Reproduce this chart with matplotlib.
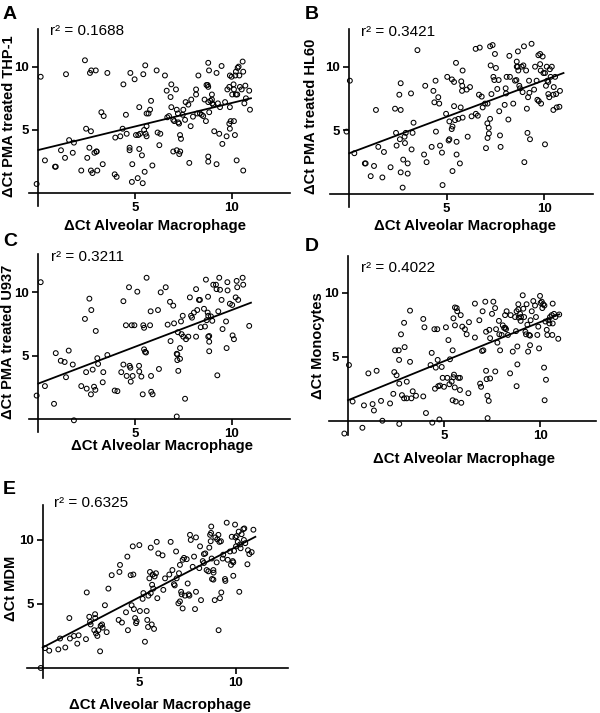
import numpy as np
import matplotlib
matplotlib.use("Agg")
import matplotlib.pyplot as plt

plt.rcParams['font.family'] = ['Liberation Sans', 'DejaVu Sans']
plt.rcParams['font.weight'] = 'bold'

# ---- data (x = dCt alveolar macrophage) ----
thp1_pts = [(-0.09, 0.74), (0.12, 9.2), (0.34, 2.6), (0.86, 2.1), (0.9, 2.1), (1.17, 3.4), (1.38, 2.8),
            (1.43, 9.4), (1.59, 4.2), (1.78, 3.2), (1.84, 4.0), (2.22, 1.8), (2.41, 10.5), (2.47, 5.1),
            (2.53, 2.8), (2.64, 3.6), (2.72, 4.9), (2.67, 9.5), (2.74, 9.7), (2.72, 1.8), (2.8, 1.6),
            (2.9, 3.2), (3.0, 3.3), (3.02, 3.3), (2.97, 9.7), (3.05, 1.8), (3.26, 6.4), (3.38, 6.1),
            (3.33, 2.3), (3.57, 9.5), (3.95, 1.5), (4.05, 1.3), (3.98, 4.4), (4.24, 4.5), (4.4, 8.6),
            (4.36, 5.1), (4.53, 6.2), (4.57, 4.7), (4.72, 3.6), (4.72, 3.4), (4.76, 9.5), (4.86, 2.3),
            (4.84, 0.9), (4.98, 9.0), (5.05, 4.6), (5.17, 4.6), (5.14, 1.2), (5.22, 6.8), (5.26, 4.7),
            (5.22, 3.5), (5.36, 3.0), (5.4, 0.8), (5.43, 9.4), (5.47, 5.0), (5.5, 1.7), (5.53, 10.1),
            (5.55, 4.7), (5.6, 5.3), (5.6, 4.5), (5.6, 6.3), (5.7, 6.3), (5.78, 6.6), (5.83, 7.3),
            (5.9, 2.2), (6.12, 9.7), (6.17, 4.8), (6.26, 3.8), (6.31, 4.7), (6.55, 9.3), (6.64, 8.1),
            (6.67, 6.0), (6.76, 6.1), (6.88, 6.8), (6.88, 8.6), (6.84, 7.6), (6.98, 5.8), (7.03, 5.7),
            (6.98, 3.3), (7.16, 3.4), (7.12, 8.2), (7.16, 6.6), (7.22, 6.3), (7.24, 5.6), (7.28, 5.5),
            (7.29, 3.1), (7.33, 4.6), (7.38, 4.3), (7.34, 3.3), (7.47, 6.2), (7.5, 6.6), (7.59, 5.8),
            (7.62, 7.2), (7.76, 7.0), (7.81, 2.4), (7.88, 5.3), (7.91, 7.4), (8.0, 6.05), (8.16, 8.2),
            (8.16, 7.8), (8.22, 6.3), (8.28, 9.3), (8.36, 6.3), (8.45, 6.2), (8.53, 6.1), (8.6, 7.4),
            (8.67, 5.7), (8.7, 8.55), (8.76, 8.55), (8.79, 8.4), (8.79, 7.2), (8.84, 6.4), (8.79, 10.3),
            (8.83, 9.7), (8.79, 2.9), (8.79, 2.5), (8.9, 7.3), (8.98, 7.4), (8.98, 7.8), (9.0, 7.1),
            (9.05, 7.0), (9.1, 4.9), (9.22, 9.5), (9.22, 2.3), (9.29, 7.1), (9.36, 4.7), (9.4, 6.8),
            (9.48, 10.05), (9.52, 3.9), (9.66, 7.2), (9.74, 4.5), (9.78, 8.2), (9.88, 8.4), (9.91, 6.8),
            (9.88, 5.5), (9.91, 5.1), (9.95, 5.7), (9.91, 9.3), (10.0, 9.2), (10.03, 7.8), (10.1, 8.6),
            (10.12, 8.2), (10.12, 5.7), (10.17, 4.6), (10.19, 9.3), (10.22, 9.6), (10.22, 7.8),
            (10.29, 7.8), (10.26, 2.6), (10.31, 9.9), (10.36, 10.0), (10.4, 9.3), (10.43, 8.4),
            (10.52, 8.2), (10.57, 10.4), (10.6, 9.6), (10.6, 1.8), (10.66, 7.1), (10.71, 8.5),
            (10.74, 7.5), (10.91, 8.1), (10.95, 6.6)]

hl60_pts = [(0.03, 8.9), (-0.14, 4.9), (0.26, 3.2), (0.8, 2.4), (0.84, 2.4), (1.27, 2.2), (1.1, 1.4),
            (1.37, 6.6), (1.49, 3.7), (1.7, 1.3), (1.78, 3.3), (2.12, 2.1), (2.35, 6.7), (2.4, 4.8),
            (2.43, 3.8), (2.57, 7.8), (2.6, 4.3), (2.64, 8.7), (2.64, 6.6), (2.64, 1.7), (2.74, 0.5),
            (2.77, 2.7), (2.84, 4.5), (2.9, 4.8), (2.86, 4.0), (3.0, 2.4), (3.0, 1.6), (3.17, 7.9),
            (3.2, 3.5), (3.25, 4.8), (3.3, 5.6), (3.5, 11.3), (3.84, 3.1), (3.9, 8.5), (3.97, 2.5),
            (4.23, 3.7), (4.32, 8.1), (4.37, 7.2), (4.43, 8.9), (4.45, 4.9), (4.57, 7.6), (4.62, 7.1),
            (4.66, 3.8), (4.76, 3.25), (4.79, 0.7), (4.97, 6.3), (5.03, 9.2), (5.1, 4.2), (5.14, 4.3),
            (5.14, 5.7), (5.26, 5.1), (5.27, 9.0), (5.38, 8.8), (5.3, 5.3), (5.3, 1.8), (5.38, 6.9),
            (5.43, 5.8), (5.48, 10.3), (5.51, 3.1), (5.51, 4.1), (5.6, 5.9), (5.68, 2.4), (5.72, 6.8),
            (5.75, 8.85), (5.8, 8.5), (5.79, 8.1), (5.82, 9.7), (5.82, 6.0), (6.03, 8.2), (6.08, 4.5),
            (6.2, 8.4), (6.28, 6.1), (6.5, 6.3), (6.6, 6.15), (6.49, 11.4), (6.7, 11.5), (6.66, 7.8),
            (6.8, 7.65), (6.85, 6.8), (6.97, 7.1), (7.1, 7.1), (7.02, 3.6), (7.09, 5.55), (7.16, 5.2),
            (7.1, 4.4), (7.17, 4.75), (7.23, 11.6), (7.26, 10.1), (7.3, 7.85), (7.23, 5.9),
            (7.36, 11.7), (7.4, 9.2), (7.45, 8.95), (7.48, 11.0), (7.53, 9.9), (7.6, 8.25),
            (7.67, 8.95), (7.7, 6.5), (7.74, 4.6), (7.77, 3.7), (7.98, 7.0), (8.03, 8.3), (8.05, 7.9),
            (8.08, 9.2), (8.17, 5.85), (8.25, 9.2), (8.22, 10.85), (8.42, 7.1), (8.51, 8.9),
            (8.58, 8.95), (8.6, 10.0), (8.65, 10.0), (8.6, 10.4), (8.66, 11.2), (8.68, 9.7), (8.73, 8.5),
            (8.77, 8.3), (8.85, 10.0), (8.94, 10.1), (8.9, 8.0), (8.97, 11.6), (8.99, 2.5), (9.08, 9.7),
            (9.12, 6.7), (9.15, 4.8), (9.18, 7.6), (9.23, 8.9), (9.25, 7.95), (9.28, 4.3), (9.36, 11.8),
            (9.49, 8.2), (9.54, 10.0), (9.62, 8.9), (9.66, 7.4), (9.73, 7.3), (9.71, 10.9), (9.8, 11.0),
            (9.8, 10.2), (9.83, 9.7), (9.85, 7.1), (9.93, 10.8), (9.97, 9.5), (10.05, 9.5), (10.05, 3.9),
            (10.1, 8.5), (10.14, 10.0), (10.17, 8.9), (10.22, 8.8), (10.22, 7.85), (10.27, 7.6),
            (10.3, 9.8), (10.34, 9.2), (10.4, 10.0), (10.48, 7.8), (10.48, 6.6), (10.5, 8.4),
            (10.57, 9.2), (10.62, 7.85), (10.65, 6.8), (10.82, 8.1), (10.79, 6.85)]

u937_pts = [(0.12, 10.8), (-0.09, 1.85), (0.34, 2.6), (0.81, 1.2), (0.9, 5.2), (1.16, 4.6), (1.36, 4.5),
            (1.43, 3.3), (1.57, 5.4), (1.78, 4.3), (1.84, -0.1), (2.22, 2.6), (2.41, 7.9), (2.47, 3.7),
            (2.5, 2.4), (2.64, 9.5), (2.72, 1.95), (2.74, 8.6), (2.81, 3.9), (2.88, 2.55), (2.95, 2.3),
            (2.97, 6.95), (3.05, 4.8), (3.09, 4.35), (3.36, 3.7), (3.33, 2.9), (3.57, 5.05), (3.95, 2.25),
            (4.09, 2.2), (4.29, 3.7), (4.4, 9.3), (4.4, 4.3), (4.53, 7.4), (4.57, 3.4), (4.69, 10.4),
            (4.72, 4.2), (4.76, 4.05), (4.78, 2.95), (4.83, 7.4), (4.97, 7.4), (4.88, 3.4), (5.12, 10.05),
            (5.21, 4.2), (5.22, 3.75), (5.33, 3.35), (5.4, 1.95), (5.43, 7.4), (5.47, 7.2), (5.47, 5.5),
            (5.52, 5.3), (5.57, 5.25), (5.6, 11.15), (5.78, 7.4), (5.81, 8.5), (5.83, 3.4), (5.84, 2.15),
            (5.91, 1.95), (6.19, 8.6), (6.24, 3.95), (6.33, 10.0), (6.59, 10.4), (6.69, 7.45),
            (6.81, 9.25), (6.84, 6.15), (6.98, 8.95), (7.02, 7.55), (7.16, 5.15), (7.19, 5.1),
            (7.19, 4.65), (7.22, 6.85), (7.24, 3.8), (7.16, 0.2), (7.33, 5.6), (7.33, 4.75), (7.38, 7.7),
            (7.41, 6.7), (7.47, 8.15), (7.5, 6.5), (7.59, 1.6), (7.64, 6.3), (7.76, 6.5), (7.84, 9.6),
            (7.9, 8.15), (7.95, 8.0), (8.05, 8.4), (8.16, 10.25), (8.16, 6.5), (8.22, 8.6), (8.31, 9.4),
            (8.36, 9.4), (8.4, 7.25), (8.57, 8.7), (8.62, 7.3), (8.67, 11.0), (8.71, 7.8), (8.76, 8.4),
            (8.79, 8.15), (8.78, 9.65), (8.79, 6.5), (8.84, 6.1), (8.84, 6.55), (8.84, 5.35), (8.93, 8.1),
            (9.0, 7.75), (9.05, 10.6), (9.19, 10.6), (9.22, 10.25), (9.26, 3.45), (9.31, 8.5),
            (9.36, 11.15), (9.4, 10.2), (9.48, 9.4), (9.53, 7.1), (9.71, 7.7), (9.74, 5.6), (9.78, 10.8),
            (9.79, 10.15), (9.91, 9.1), (10.03, 9.0), (10.05, 6.6), (10.12, 6.3), (10.21, 9.6),
            (10.26, 10.9), (10.29, 10.4), (10.34, 9.4), (10.57, 11.15), (10.6, 10.6), (10.91, 7.35)]

mono_pts = [(-0.19, -1.0), (0.05, 4.35), (0.24, 1.5), (0.75, -0.55), (0.83, 1.2), (1.06, 3.7), (1.28, 1.3),
            (1.35, 0.8), (1.49, 3.9), (1.72, 1.55), (1.79, 0.0), (2.19, 1.35), (2.36, 2.1), (2.41, 3.8),
            (2.45, 5.5), (2.53, 3.55), (2.64, 5.5), (2.66, 4.75), (2.67, 2.9), (2.67, -0.25),
            (2.76, 6.75), (2.81, 2.0), (2.92, 7.65), (2.92, 1.75), (3.06, 1.75), (2.95, 5.75),
            (3.06, 3.05), (3.23, 4.6), (3.23, 8.6), (3.3, 1.75), (3.37, 2.3), (3.54, 1.95), (3.92, 1.9),
            (3.92, 7.95), (3.98, 7.3), (4.06, 0.6), (4.3, 4.35), (4.36, 5.3), (4.39, -0.15), (4.5, 7.15),
            (4.65, 7.15), (4.53, 2.5), (4.57, 4.15), (4.67, 4.75), (4.7, 2.7), (4.79, 2.75), (4.76, 0.1),
            (4.88, 4.2), (4.93, 3.35), (5.0, 2.65), (5.1, 7.3), (5.17, 3.35), (5.23, 6.3), (5.28, 2.85),
            (5.31, 4.8), (5.4, 3.05), (5.45, 5.5), (5.49, 8.0), (5.45, 1.6), (5.49, 3.4), (5.52, 3.6),
            (5.56, 2.6), (5.57, 7.45), (5.61, 1.5), (5.57, 8.85), (5.66, 8.8), (5.69, 8.55), (5.75, 3.35),
            (5.83, 3.35), (5.83, 2.4), (5.87, 8.25), (5.9, 1.4), (5.95, 7.35), (6.09, 7.15), (6.18, 6.75),
            (6.27, 2.15), (6.3, 7.7), (6.61, 9.15), (6.61, 6.5), (6.84, 7.85), (6.88, 2.9), (6.93, 2.65),
            (6.98, 5.45), (7.01, 8.55), (7.05, 5.5), (7.15, 9.3), (7.19, 6.95), (7.19, 3.9), (7.22, 3.25),
            (7.26, 1.95), (7.27, 0.2), (7.33, 1.55), (7.36, 7.1), (7.4, 6.45), (7.4, 3.3), (7.5, 8.35),
            (7.57, 9.3), (7.66, 8.8), (7.67, 3.85), (7.71, 7.15), (7.78, 6.1), (7.86, 7.8), (7.88, 6.75),
            (7.92, 5.5), (8.0, 6.7), (8.06, 7.45), (8.13, 7.25), (8.19, 7.25), (8.23, 7.15), (8.18, 8.25),
            (8.26, 8.55), (8.33, 6.7), (8.44, 3.7), (8.47, 8.25), (8.58, 5.4), (8.7, 8.1), (8.75, 7.0),
            (8.78, 8.55), (8.82, 5.8), (8.82, 4.4), (8.78, 2.7), (8.87, 9.1), (8.87, 8.7), (8.89, 8.05),
            (8.96, 8.35), (9.01, 8.1), (8.99, 7.8), (9.1, 9.8), (9.13, 8.75), (9.17, 8.1), (9.24, 6.95),
            (9.27, 6.75), (9.3, 9.1), (9.34, 7.5), (9.38, 5.4), (9.43, 6.7), (9.48, 6.65), (9.48, 5.9),
            (9.51, 7.85), (9.57, 8.55), (9.65, 9.35), (9.74, 9.0), (9.79, 8.1), (9.86, 6.7), (9.91, 7.35),
            (9.95, 5.65), (10.0, 9.75), (10.03, 9.2), (10.09, 9.3), (10.12, 8.8), (10.17, 9.1),
            (10.23, 9.0), (10.21, 4.15), (10.24, 1.6), (10.28, 7.75), (10.31, 3.2), (10.35, 7.1),
            (10.38, 6.7), (10.43, 7.85), (10.49, 7.6), (10.52, 8.1), (10.61, 8.25), (10.64, 6.7),
            (10.66, 9.15), (10.66, 7.6), (10.73, 8.35), (10.8, 8.1), (10.95, 6.4), (11.0, 8.3)]

mdm_pts = [(-0.1, 0.0), (0.12, 1.55), (0.34, 1.35), (0.81, 1.45), (0.9, 2.3), (1.17, 1.6), (1.38, 3.9),
           (1.41, 2.3), (1.62, 2.5), (1.79, 1.9), (1.86, 2.55), (2.24, 2.25), (2.28, 5.9), (2.41, 4.0),
           (2.45, 3.6), (2.48, 3.4), (2.67, 2.95), (2.71, 4.2), (2.72, 3.9), (2.76, 2.7), (2.83, 2.5),
           (2.88, 2.95), (2.97, 1.3), (3.0, 3.3), (3.07, 3.4), (3.1, 3.15), (3.22, 4.9), (3.31, 2.8),
           (3.4, 6.2), (3.57, 7.25), (3.93, 3.75), (3.97, 7.5), (4.0, 8.05), (4.1, 3.55), (4.31, 4.35),
           (4.38, 8.7), (4.41, 2.95), (4.55, 7.25), (4.69, 7.3), (4.6, 4.9), (4.66, 9.5), (4.72, 4.6),
           (4.78, 3.9), (4.83, 3.5), (4.86, 3.65), (5.0, 9.6), (5.03, 4.45), (5.17, 5.4), (5.21, 5.85),
           (5.29, 2.05), (5.38, 4.45), (5.41, 3.75), (5.45, 3.2), (5.47, 5.65), (5.52, 7.0), (5.55, 7.5),
           (5.59, 5.85), (5.59, 9.4), (5.64, 3.4), (5.66, 6.5), (5.69, 7.3), (5.72, 6.2), (5.76, 3.05),
           (5.79, 7.15), (5.86, 7.4), (5.9, 9.85), (5.93, 5.45), (5.98, 8.95), (6.2, 8.8), (6.24, 6.1),
           (6.33, 7.0), (6.55, 7.3), (6.62, 9.85), (6.71, 7.65), (6.79, 6.55), (6.83, 6.45), (6.9, 9.1),
           (6.93, 7.0), (7.02, 5.05), (7.1, 5.2), (7.05, 7.4), (7.1, 8.05), (7.16, 5.95), (7.19, 5.75),
           (7.24, 4.65), (7.24, 8.45), (7.31, 8.6), (7.36, 5.65), (7.45, 8.5), (7.5, 6.6), (7.55, 5.75),
           (7.59, 5.65), (7.62, 10.4), (7.66, 10.0), (7.76, 7.9), (7.83, 8.7), (7.88, 4.6), (7.93, 5.95),
           (7.93, 10.2), (8.1, 7.8), (8.14, 9.5), (8.19, 5.3), (8.28, 8.35), (8.34, 8.2), (8.34, 8.9),
           (8.41, 8.95), (8.48, 7.65), (8.57, 7.55), (8.62, 9.4), (8.66, 10.4), (8.69, 9.9), (8.71, 10.55),
           (8.72, 11.05), (8.74, 8.55), (8.76, 6.95), (8.83, 6.9), (8.83, 7.65), (8.84, 7.45), (8.9, 5.3),
           (8.93, 10.2), (9.03, 10.05), (9.0, 8.25), (9.09, 10.4), (9.1, 2.95), (9.14, 9.85), (9.22, 9.9),
           (9.17, 5.45), (9.24, 5.9), (9.31, 8.55), (9.34, 8.85), (9.43, 6.95), (9.45, 6.8), (9.52, 11.35),
           (9.57, 8.45), (9.69, 9.1), (9.74, 8.05), (9.78, 10.25), (9.83, 8.35), (9.86, 8.25), (9.86, 7.2),
           (9.9, 9.15), (9.95, 11.2), (9.97, 10.2), (10.03, 10.3), (10.0, 9.5), (10.09, 9.85),
           (10.14, 10.65), (10.17, 5.95), (10.21, 9.65), (10.24, 9.35), (10.29, 10.45), (10.38, 10.85),
           (10.43, 10.9), (10.41, 10.0), (10.48, 9.75), (10.59, 8.1), (10.62, 9.2), (10.69, 8.9),
           (10.81, 9.05), (10.9, 10.8)]

panel_letters = ['A', 'B', 'C', 'D', 'E']
y_labels = ['ΔCt PMA treated THP-1', 'ΔCt PMA treated HL60', 'ΔCt PMA treated U937',
            'ΔCt Monocytes', 'ΔCt MDM']
x_label = 'ΔCt Alveolar Macrophage'
r2_values = ['0.1688', '0.3421', '0.3211', '0.4022', '0.6325']
fit_intercepts = [3.42, 3.2, 2.8, 1.6, 1.6]
fit_slopes = [0.371, 0.573, 0.58, 0.61, 0.786]
fit_x_end = 11.0

all_pts = [thp1_pts, hl60_pts, u937_pts, mono_pts, mdm_pts]

W, H = 600, 713
fig = plt.figure(figsize=(W / 100, H / 100), dpi=100)
fig.patch.set_facecolor('white')

# layout in pixels, from top-left
boxes = [(28.7, 289.6, 28.6, 206.0), (329.8, 592.7, 28.5, 206.7), (28.7, 289.6, 254.3, 431.7),
         (328.8, 595.7, 255.6, 434.8), (27.2, 288.2, 505.4, 678.2)]
xlims = [(-0.5, 13), (-1, 12.5), (-0.5, 13), (-1, 12.9), (-0.8, 12.7)]
ylims = [(-1, 13), (-1, 13), (-1, 13), (-1.1, 12.9), (-0.8, 12.7)]
r2_pos = [(0.6, 12.8), (0.6, 12.75), (0.65, 12.8), (0.68, 11.9), (0.6, 12.9)]
letter_pos = [(3, 6), (305, 6), (3, 233), (305, 238), (3, 481)]
xlabel_pos = [(155, 226), (465, 226), (162, 446), (464, 459), (160, 705)]
ylabel_pos = [(9, 116), (311, 116), (8.5, 342), (318, 346), (11, 588)]

for i in range(5):
    l, r, t, b = boxes[i]
    ax = fig.add_axes([l / W, 1 - b / H, (r - l) / W, (b - t) / H])
    pts = np.array(all_pts[i])
    ax.scatter(pts[:, 0], pts[:, 1], s=12, facecolors='none', edgecolors='black',
               linewidths=0.75, zorder=3, clip_on=False)
    xs = np.array([0, fit_x_end])
    ax.plot(xs, fit_intercepts[i] + fit_slopes[i] * xs, color='black', lw=1.3, zorder=4)

    ax.set_xlim(*xlims[i])
    ax.set_ylim(*ylims[i])
    for side in ['top', 'right']:
        ax.spines[side].set_visible(False)
    ax.spines['left'].set_position(('data', 0))
    ax.spines['bottom'].set_position(('data', 0))
    ax.spines['left'].set_linewidth(1.2)
    ax.spines['bottom'].set_linewidth(1.2)
    ax.set_xticks([5, 10])
    ax.set_yticks([5, 10])
    ax.tick_params(direction='out', length=4, width=1.2, labelsize=9.5, pad=2.5)
    ax.set_facecolor('none')

    ax.text(r2_pos[i][0], r2_pos[i][1], 'r² = ' + r2_values[i], fontsize=11,
            fontweight='normal', va='center', ha='left')

    fig.text(xlabel_pos[i][0] / W, 1 - xlabel_pos[i][1] / H, x_label, fontsize=10.8,
             fontweight='bold', ha='center', va='center')
    fig.text(ylabel_pos[i][0] / W, 1 - ylabel_pos[i][1] / H, y_labels[i], fontsize=10.5,
             fontweight='bold', ha='center', va='center', rotation=90)

    lx, ly = letter_pos[i]
    fig.text(lx / W, 1 - ly / H, panel_letters[i], fontsize=14, fontweight='bold',
             va='top', ha='left')

fig.savefig('out.png', dpi=100, facecolor='white')
